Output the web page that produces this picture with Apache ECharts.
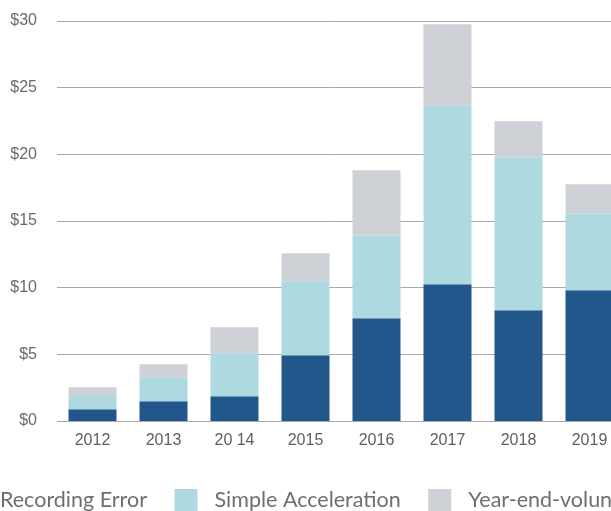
<!DOCTYPE html>
<html>
<head>
<meta charset="utf-8">
<script src="https://cdn.jsdelivr.net/npm/echarts@6/dist/echarts.min.js"></script>
<style>
  html, body { margin: 0; padding: 0; background: #fff; }
</style>
</head>
<body>
<div id="chart" style="width: 611px; height: 511px"></div>
<script>
var years = ["2012", "2013", "20 14", "2015", "2016", "2017", "2018", "2019"];
var recordingError = [0.88, 1.48, 1.85, 4.93, 7.7, 10.25, 8.3, 9.8];
var simpleAcceleration = [1.0, 1.8, 3.23, 5.55, 6.2, 13.4, 11.48, 5.76];
var yearEndVoluntary = [0.65, 0.97, 1.95, 2.1, 4.9, 6.1, 2.7, 2.19];
var yTicks = [0, 5, 10, 15, 20, 25, 30];

var chart = echarts.init(document.getElementById("chart"));

// the original plot is cropped on the right, so the grid runs past the edge
var option = {
  animation: false,
  grid: {
    left: 57,
    top: 21,
    width: 568,
    bottom: 90,
    outerBoundsMode: "none"
  },
  legend: {
    left: -40,
    top: 489,
    width: 1000,
    padding: 0,
    itemWidth: 23,
    itemHeight: 23,
    itemGap: 27.5,
    icon: "rect",
    textStyle: {
      fontFamily: "Lato",
      fontSize: 21.5,
      color: "#6f6f6f",
      padding: [0, 0, 0, 12]
    },
    data: ["Recording Error", "Simple Acceleration", "Year-end-voluntary"]
  },
  xAxis: {
    type: "category",
    data: years,
    axisLine: { show: false },
    axisTick: { show: false },
    axisLabel: {
      margin: 12,
      fontFamily: "Liberation Sans",
      fontSize: 16,
      color: "#5f5f5f"
    }
  },
  yAxis: {
    type: "value",
    min: yTicks[0],
    max: yTicks[yTicks.length - 1],
    interval: 5,
    axisLine: { show: false },
    axisTick: { show: false },
    splitLine: {
      lineStyle: { color: "#a8a8a8", width: 1 }
    },
    axisLabel: {
      margin: 20,
      fontFamily: "Liberation Sans",
      fontSize: 16,
      color: "#6a6a6a",
      formatter: function (v) { return "$" + v; }
    }
  },
  series: [
    {
      name: "Recording Error",
      type: "bar",
      stack: "total",
      barWidth: 48,
      data: recordingError,
      itemStyle: { color: "#22578b" }
    },
    {
      name: "Simple Acceleration",
      type: "bar",
      stack: "total",
      barWidth: 48,
      data: simpleAcceleration,
      itemStyle: { color: "#afd9e1" }
    },
    {
      name: "Year-end-voluntary",
      type: "bar",
      stack: "total",
      barWidth: 48,
      data: yearEndVoluntary,
      itemStyle: { color: "#ced1d6" }
    }
  ]
};

chart.setOption(option);
</script>
</body>
</html>
